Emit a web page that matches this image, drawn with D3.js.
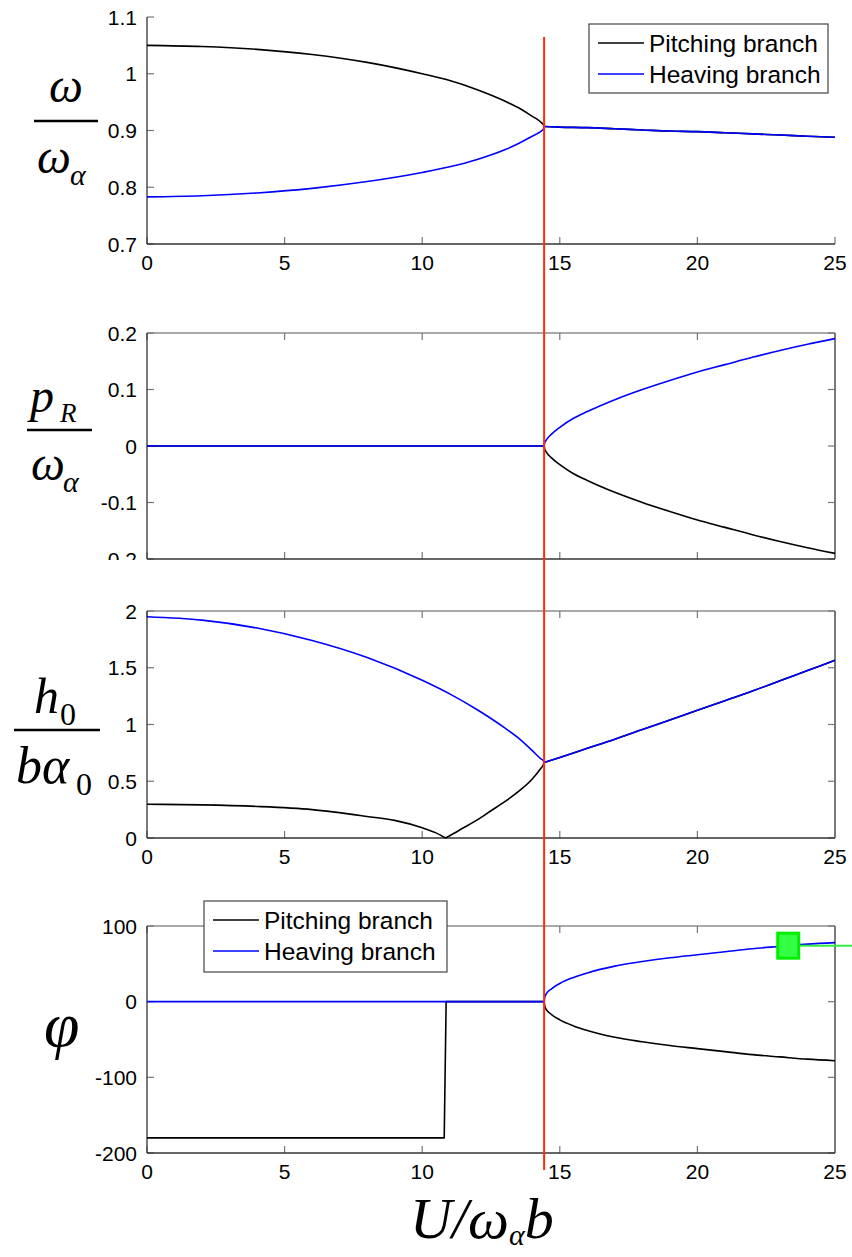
<!DOCTYPE html>
<html><head><meta charset="utf-8">
<script src="https://cdn.jsdelivr.net/npm/d3@7"></script>
<style>body{margin:0;background:#fff}svg{display:block}</style>
</head><body><svg id="c" width="852" height="1257"></svg>
<script>
// ---------------- data ----------------
const xTickValues = [0, 5, 10, 15, 20, 25];
const xTickLabels = ["0", "5", "10", "15", "20", "25"];
const flutterSpeed = 14.43;

// panel 1: omega / omega_alpha
const omegaU_pre = [0, 2, 4, 6, 8, 10, 11, 12, 13, 13.5, 14, 14.2, 14.35, 14.42, 14.43];
const omegaPitch_pre = [1.050, 1.048, 1.043, 1.034, 1.020, 1.000, 0.988, 0.972, 0.952, 0.940, 0.925, 0.919, 0.913, 0.909, 0.907];
const omegaHeave_pre = [0.783, 0.785, 0.790, 0.798, 0.810, 0.826, 0.836, 0.849, 0.866, 0.877, 0.890, 0.895, 0.900, 0.904, 0.907];
const omegaU_post = [14.43, 15, 16, 17, 18, 19, 20, 21, 22, 23, 24, 25];
const omega_post = [0.907, 0.906, 0.905, 0.903, 0.901, 0.899, 0.898, 0.896, 0.894, 0.892, 0.890, 0.888];
const omegaTicks = [0.7, 0.8, 0.9, 1, 1.1];
const omegaTickLabels = ["0.7", "0.8", "0.9", "1", "1.1"];

// panel 2: p_R / omega_alpha
const pU_pre = [0, 14.43];
const p_pre = [0, 0];
const pU_post = [14.43, 14.45, 14.5, 14.7, 15, 15.5, 16, 17, 18, 19, 20, 21, 22, 23, 24, 25];
const pHeave_post = [0, 0.005, 0.010, 0.021, 0.033, 0.049, 0.061, 0.082, 0.100, 0.116, 0.131, 0.144, 0.157, 0.169, 0.180, 0.190];
const pPitch_post = [0, -0.005, -0.010, -0.021, -0.033, -0.049, -0.061, -0.082, -0.100, -0.116, -0.131, -0.144, -0.157, -0.169, -0.180, -0.190];
const pTicks = [-0.2, -0.1, 0, 0.1, 0.2];
const pTickLabels = ["-0.2", "-0.1", "0", "0.1", "0.2"];

// panel 3: h0 / (b alpha0)
const hU_heavePre = [0, 2, 4, 6, 8, 10, 11, 12, 13, 13.5, 14, 14.3, 14.4, 14.43];
const hHeave_pre = [1.95, 1.92, 1.85, 1.74, 1.59, 1.39, 1.27, 1.13, 0.97, 0.88, 0.77, 0.70, 0.68, 0.665];
const hU_pitchDown = [0, 2, 4, 6, 8, 9, 10, 10.5, 10.85];
const hPitch_down = [0.297, 0.292, 0.278, 0.250, 0.190, 0.155, 0.090, 0.045, 0.0];
const hU_pitchUp = [10.85, 11, 11.5, 12, 12.5, 13, 13.5, 14, 14.3, 14.4, 14.43];
const hPitch_up = [0.0, 0.020, 0.090, 0.160, 0.240, 0.320, 0.410, 0.520, 0.610, 0.645, 0.665];
const hU_post = [14.43, 15, 16, 17, 18, 19, 20, 21, 22, 23, 24, 25];
const h_post = [0.665, 0.71, 0.79, 0.87, 0.955, 1.04, 1.125, 1.21, 1.295, 1.385, 1.475, 1.565];
const hTicks = [0, 0.5, 1, 1.5, 2];
const hTickLabels = ["0", "0.5", "1", "1.5", "2"];

// panel 4: phase phi
const phiU_pitchPre = [0, 10.8, 10.87, 14.43];
const phiPitch_pre = [-180, -180, 0, 0];
const phiU_heavePre = [0, 14.43];
const phiHeave_pre = [0, 0];
const phiU_post = [14.43, 14.45, 14.5, 14.7, 15, 15.5, 16, 17, 18, 19, 20, 21, 22, 23, 24, 25];
const phiHeave_post = [0, 5, 10, 17, 24, 32, 38, 47, 53, 58, 62, 66, 70, 73, 76, 78];
const phiPitch_post = [0, -5, -10, -17, -24, -32, -38, -47, -53, -58, -62, -66, -70, -73, -76, -78];
const phiTicks = [-200, -100, 0, 100];
const phiTickLabels = ["-200", "-100", "0", "100"];
const cursorPoint = [23.3, 74];

const legendLabels = ["Pitching branch", "Heaving branch"];
const seriesColors = ["#000000", "#0000ff"];

// ---------------- drawing ----------------
const svg = d3.select("#c");
const x = d3.scaleLinear().domain([0, 25]).range([147, 835]);
const zip = (a, b) => a.map((v, i) => [v, b[i]]);

// series entries: [U, values, colorIndex, smooth]
const panels = [
  {top: 17, bottom: 244, domain: [0.7, 1.1], ticks: omegaTicks, labels: omegaTickLabels, box: false, xlabels: true,
   series: [[omegaU_pre, omegaPitch_pre, 0, true], [omegaU_post, omega_post, 0, true], [omegaU_pre, omegaHeave_pre, 1, true], [omegaU_post, omega_post, 1, true]]},
  {top: 333, bottom: 559, domain: [-0.2, 0.2], ticks: pTicks, labels: pTickLabels, box: true, xlabels: false, clipLabels: 560,
   series: [[pU_pre, p_pre, 0, false], [pU_post, pPitch_post, 0, true], [pU_pre, p_pre, 1, false], [pU_post, pHeave_post, 1, true]]},
  {top: 611, bottom: 838, domain: [0, 2], ticks: hTicks, labels: hTickLabels, box: true, xlabels: true,
   series: [[hU_pitchDown, hPitch_down, 0, true], [hU_pitchUp, hPitch_up, 0, true], [hU_post, h_post, 0, true], [hU_heavePre, hHeave_pre, 1, true], [hU_post, h_post, 1, true]]},
  {top: 926, bottom: 1153, domain: [-200, 100], ticks: phiTicks, labels: phiTickLabels, box: true, xlabels: true,
   series: [[phiU_pitchPre, phiPitch_pre, 0, false], [phiU_post, phiPitch_post, 0, true], [phiU_heavePre, phiHeave_pre, 1, false], [phiU_post, phiHeave_post, 1, true]]}
];

const defs = svg.append("defs");
defs.append("clipPath").attr("id", "clipP2").append("rect").attr("x", 0).attr("y", 0).attr("width", 852).attr("height", 560);

const tickLen = 7;
const tickFont = "Liberation Sans, Arial, Helvetica, sans-serif";

panels.forEach((p, pi) => {
  const y = d3.scaleLinear().domain(p.domain).range([p.bottom, p.top]);
  p.y = y;
  const g = svg.append("g");
  const [x0, x1] = x.range();
  if (p.box) {
    g.append("line").attr("x1", x0).attr("x2", x1).attr("y1", p.top).attr("y2", p.top).attr("stroke", "#8c8c8c").attr("stroke-width", 1.3);
    g.append("line").attr("x1", x1).attr("x2", x1).attr("y1", p.top).attr("y2", p.bottom).attr("stroke", "#333").attr("stroke-width", 1.3);
  }
  xTickValues.forEach(v => {
    g.append("line").attr("x1", x(v)).attr("x2", x(v)).attr("y1", p.bottom).attr("y2", p.bottom - tickLen).attr("stroke", "#777").attr("stroke-width", 1.2);
    if (p.box) g.append("line").attr("x1", x(v)).attr("x2", x(v)).attr("y1", p.top).attr("y2", p.top + tickLen).attr("stroke", "#777").attr("stroke-width", 1.2);
  });
  p.ticks.forEach(v => {
    g.append("line").attr("x1", x0).attr("x2", x0 + tickLen).attr("y1", y(v)).attr("y2", y(v)).attr("stroke", "#777").attr("stroke-width", 1.2);
    if (p.box) g.append("line").attr("x1", x1).attr("x2", x1 - tickLen).attr("y1", y(v)).attr("y2", y(v)).attr("stroke", "#777").attr("stroke-width", 1.2);
  });
  g.append("line").attr("x1", x0).attr("x2", x1).attr("y1", p.bottom).attr("y2", p.bottom).attr("stroke", "#333").attr("stroke-width", 1.3);
  g.append("line").attr("x1", x0).attr("x2", x0).attr("y1", p.top).attr("y2", p.bottom).attr("stroke", "#333").attr("stroke-width", 1.3);
  const lg = g.append("g");
  if (p.clipLabels) lg.attr("clip-path", "url(#clipP2)");
  p.ticks.forEach((v, i) => {
    lg.append("text").attr("x", x0 - 10).attr("y", y(v)).attr("dy", "0.36em").attr("text-anchor", "end")
      .attr("font-family", tickFont).attr("font-size", 21).attr("fill", "#000").text(p.labels[i]);
  });
  if (p.xlabels) {
    xTickValues.forEach((v, i) => {
      g.append("text").attr("x", x(v)).attr("y", p.bottom + 26).attr("text-anchor", "middle")
        .attr("font-family", tickFont).attr("font-size", 21).attr("fill", "#000").text(xTickLabels[i]);
    });
  }
  p.series.forEach(s => {
    const line = d3.line().x(d => x(d[0])).y(d => y(d[1])).curve(s[3] ? d3.curveMonotoneX : d3.curveLinear);
    svg.append("path").attr("d", line(zip(s[0], s[1]))).attr("fill", "none")
      .attr("stroke", seriesColors[s[2]]).attr("stroke-width", 1.6).attr("stroke-linejoin", "round");
  });
});

// green data cursor in panel 4
{
  const p = panels[3];
  const cx = x(cursorPoint[0]), cy = p.y(cursorPoint[1]);
  svg.append("line").attr("x1", cx).attr("x2", 852).attr("y1", cy).attr("y2", cy).attr("stroke", "#33ee44").attr("stroke-width", 2);
  svg.append("rect").attr("x", cx - 10.5).attr("y", cy - 12.5).attr("width", 21).attr("height", 25)
    .attr("fill", "#33ff44").attr("stroke", "#00ee00").attr("stroke-width", 3);
}

// red flutter line
svg.append("line").attr("x1", x(flutterSpeed)).attr("x2", x(flutterSpeed)).attr("y1", 37).attr("y2", 1170)
  .attr("stroke", "#ff2a10").attr("stroke-width", 2);

// legends
function legend(lx, ly, w, h) {
  const g = svg.append("g");
  g.append("rect").attr("x", lx).attr("y", ly).attr("width", w).attr("height", h).attr("fill", "#fff").attr("stroke", "#444").attr("stroke-width", 1.2);
  legendLabels.forEach((t, i) => {
    const yy = ly + 19 + i * 31;
    g.append("line").attr("x1", lx + 9).attr("x2", lx + 55).attr("y1", yy).attr("y2", yy).attr("stroke", seriesColors[i]).attr("stroke-width", 1.5);
    g.append("text").attr("x", lx + 60).attr("y", yy).attr("dy", "0.35em").attr("font-family", tickFont).attr("font-size", 24.5).text(t);
  });
}
legend(589, 24, 239, 69);
legend(204, 901, 243, 71);

// axis labels (math)
const serif = "Liberation Serif, Times New Roman, serif";
function t(xp, yp, size, txt, anchor) {
  return svg.append("text").attr("x", xp).attr("y", yp).attr("font-family", serif).attr("font-style", "italic")
    .attr("font-size", size).attr("text-anchor", anchor || "start").text(txt);
}
function bar(xa, xb, yp) {
  svg.append("line").attr("x1", xa).attr("x2", xb).attr("y1", yp).attr("y2", yp).attr("stroke", "#000").attr("stroke-width", 2.6);
}
// panel 1
t(66, 102, 48, "ω", "middle");
bar(34, 98, 121);
t(37, 173, 48, "ω");
t(70, 185, 30, "α");
// panel 2
t(30, 412, 48, "p");
t(60, 422, 27, "R");
bar(27, 92, 430);
t(31, 480, 48, "ω");
t(63, 492, 30, "α");
// panel 3
t(34, 713, 50, "h");
t(60, 725, 32, "0").attr("font-style", "normal");
bar(14, 100, 730);
t(16, 783, 52, "bα");
t(76, 795, 32, "0").attr("font-style", "normal");
// panel 4
t(44, 1046, 64, "φ");
// x label
const xl = svg.append("text").attr("x", 410).attr("y", 1238).attr("font-family", serif).attr("font-style", "italic").attr("font-size", 58);
xl.append("tspan").text("U/ω");
xl.append("tspan").attr("font-size", 30).attr("dy", 7).text("α");
xl.append("tspan").attr("dy", -7).text("b");
</script>
</body></html>
